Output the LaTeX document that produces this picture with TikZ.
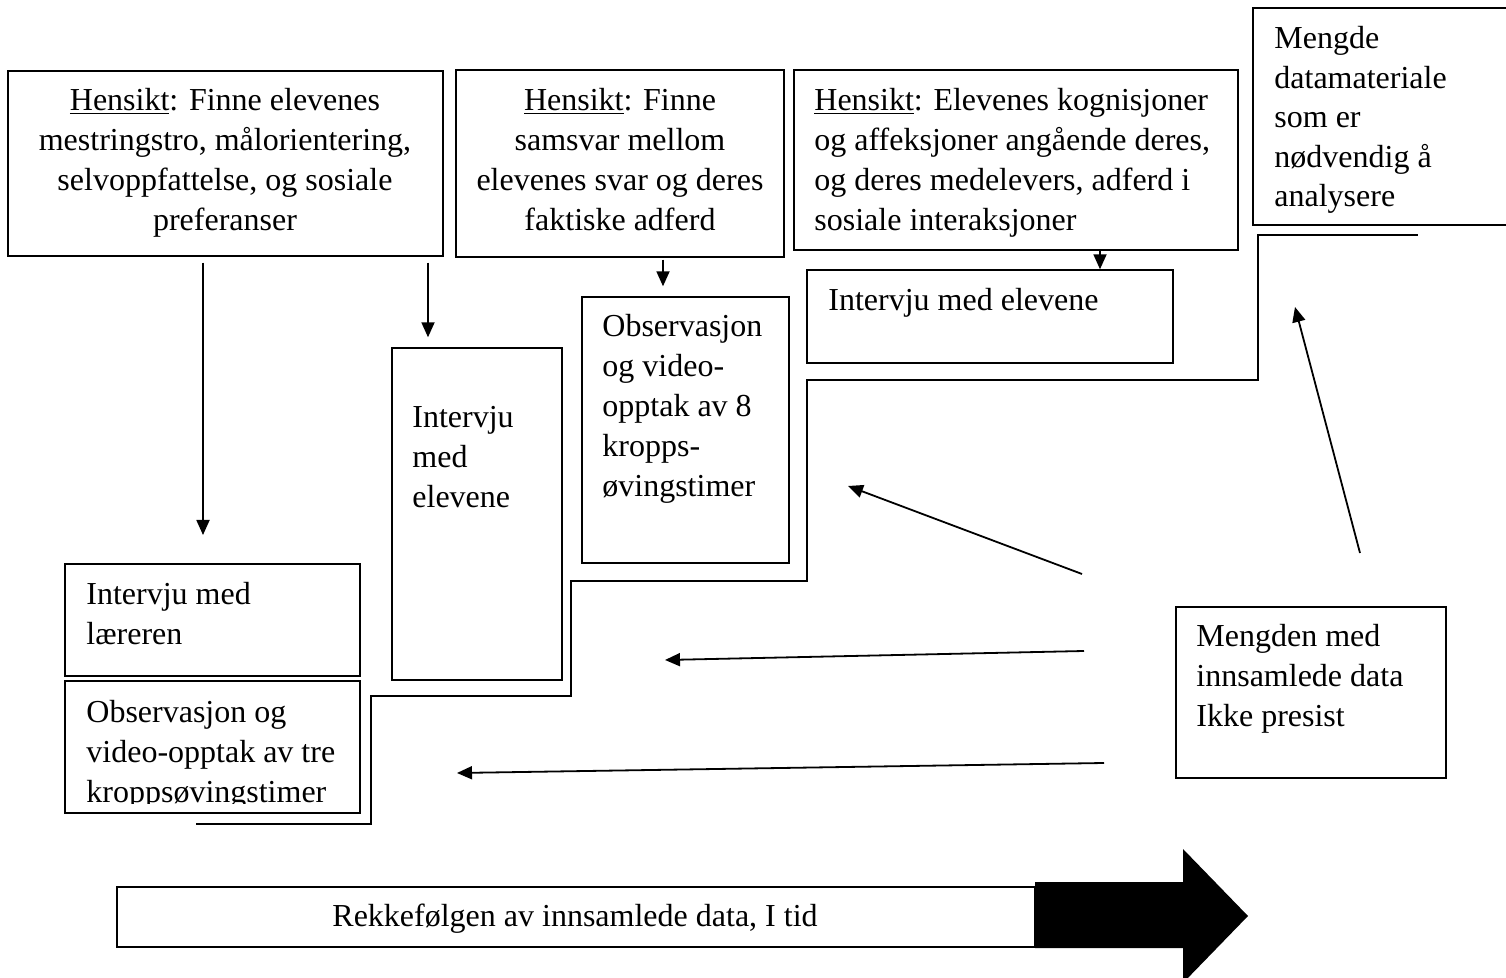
\documentclass[tikz,border=0pt]{standalone}
\usepackage{fontspec}
\setmainfont{Liberation Serif}
\usetikzlibrary{fit,arrows.meta}
\begin{document}
\begin{tikzpicture}[x=0.5pt,y=-0.5pt,
  box/.style={draw, line width=0.7pt, inner sep=0pt},
  txt/.style={inner sep=0pt, anchor=north west, align=left,
    font=\fontsize{16}{20}\selectfont},
  ctxt/.style={txt, anchor=north, align=center},
  arr/.style={line width=0.9pt, -{Triangle[length=7.5pt,width=6.5pt]}},
  stair/.style={line width=0.9pt}]
\useasboundingbox (0,0) rectangle (1506,978);

% purpose boxes along the top
\node[box, fit={(8,71) (443,256)}] (hA) {};
\node[ctxt] at (225,82) {\strut\underline{Hensikt}: Finne elevenes\\
  mestringstro, målorientering,\\ selvoppfattelse, og sosiale\\ preferanser};

\node[box, fit={(456,70) (784,257)}] (hB) {};
\node[ctxt] at (620,82) {\strut\underline{Hensikt}: Finne\\
  samsvar mellom\\ elevenes svar og deres\\ faktiske adferd};

\node[box, fit={(794,70) (1238,250)}] (hC) {};
\node[txt] at (814,82) {\strut\underline{Hensikt}: Elevenes kognisjoner\\
  og affeksjoner angående deres,\\ og deres medelevers, adferd i\\ sosiale interaksjoner};

% this box runs past the right edge of the page
\node[box, fit={(1253,8) (1580,225)}] (hD) {};
\node[txt, font=\fontsize{16}{19.7}\selectfont] at (1274,21) {\strut Mengde\\ datamateriale\\ som er\\ nødvendig å\\ analysere};

% collection methods
\node[box, fit={(807,270) (1173,363)}] (mE) {};
\node[txt] at (828,282) {\strut Intervju med elevene};

\node[box, fit={(582,297) (789,563)}] (mF) {};
\node[txt] at (602,308) {\strut Observasjon\\ og video-\\ opptak av 8\\ kropps-\\ øvingstimer};

\node[box, fit={(392,348) (562,680)}] (mG) {};
\node[txt] at (412,399) {\strut Intervju\\ med\\ elevene};

\node[box, fit={(65,564) (360,676)}] (mH) {};
\node[txt] at (86,576) {\strut Intervju med\\ læreren};

\node[box, fit={(65,681) (360,813)}] (mI) {};
\begin{scope}
  \clip (66,682) rectangle (359,803);
  \node[txt] at (86,694) {\strut Observasjon og\\ video-opptak av tre\\ kroppsøvingstimer};
\end{scope}

\node[box, fit={(1176,607) (1446,778)}] (mJ) {};
\node[txt] at (1196,618) {\strut Mengden med\\ innsamlede data\\ Ikke presist};

% staircase outline
\draw[stair] (196,824) -- (371,824) -- (371,696) -- (571,696) -- (571,581)
  -- (807,581) -- (807,380) -- (1258,380) -- (1258,235) -- (1418,235);

% arrows from the purpose boxes
\coordinate (a1) at (203,535);
\coordinate (a2) at (428,0);
\coordinate (a3) at (663,0);
\coordinate (a4) at (1100,0);
\draw[arr, shorten <=3pt] (hA.south -| a1) -- (a1);
\draw[arr, shorten <=3pt, shorten >=5pt] (hA.south -| a2) -- (mG.north -| a2);
\draw[arr, shorten <=1pt, shorten >=5pt] (hB.south -| a3) -- (mF.north -| a3);
\draw[arr] (hC.south -| a4) -- (mE.north -| a4);

% arrows showing the amount of data
\coordinate (s1) at (1082,574);
\coordinate (e1) at (848,486);
\coordinate (s2) at (1084,651);
\coordinate (e2) at (665,660);
\coordinate (s3) at (1104,763);
\coordinate (e3) at (457,773);
\coordinate (s4) at (1360,553);
\coordinate (e4) at (1295,307);
\draw[arr] (s1) -- (e1);
\draw[arr] (s2) -- (e2);
\draw[arr] (s3) -- (e3);
\draw[arr] (s4) -- (e4);

% time axis arrow
\node[box, fit={(117,887) (1035,947)}] (tl) {};
\node[anchor=base, inner sep=0pt, font=\fontsize{16}{20}\selectfont] at (575,926)
  {Rekkefølgen av innsamlede data, I tid};
\fill (1035,882) -- (1183,882) -- (1183,849) -- (1248,916) -- (1183,983)
  -- (1183,948) -- (1035,948) -- cycle;
\end{tikzpicture}
\end{document}
